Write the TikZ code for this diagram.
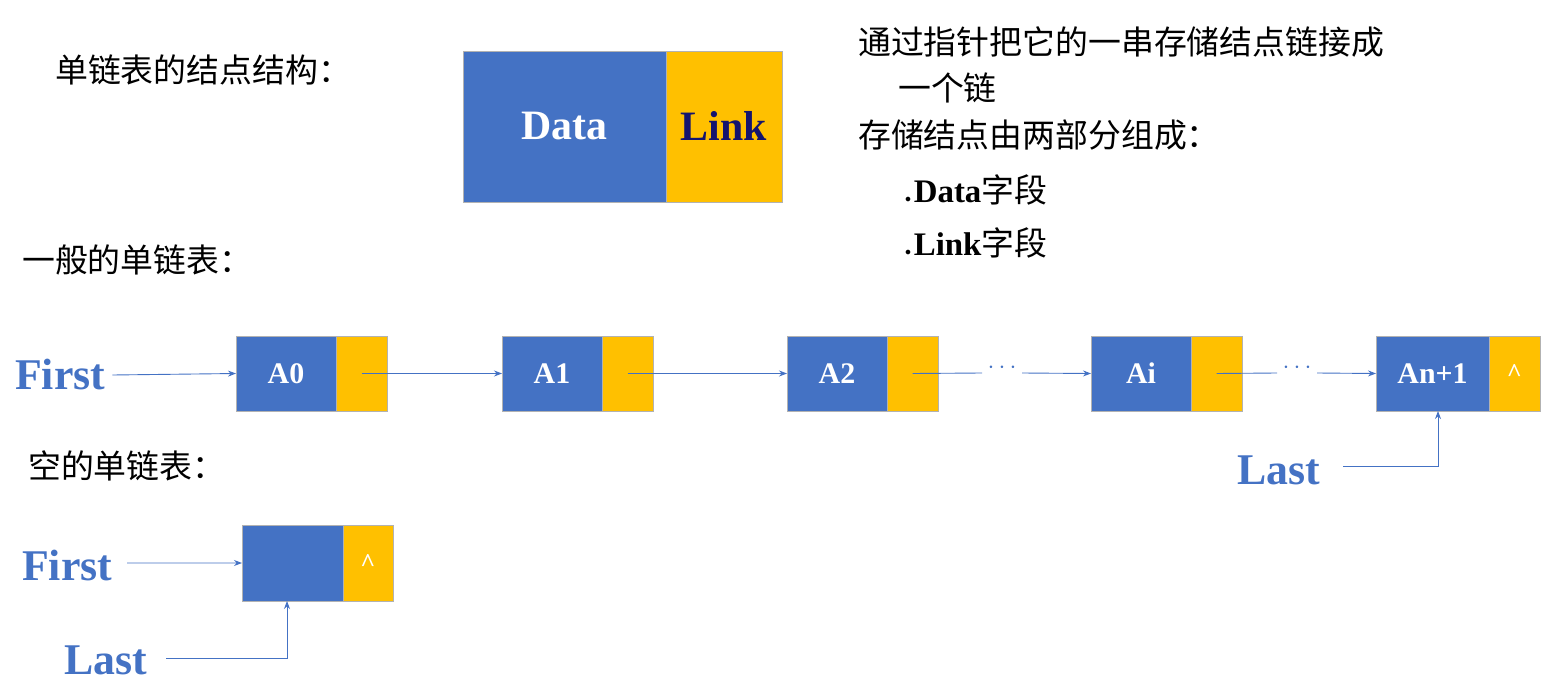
\documentclass[tikz,border=0pt]{standalone}
\usepackage{fontspec}
\setmainfont{Liberation Serif}
\newfontfamily\cjk{Noto Sans CJK SC}
\usetikzlibrary{arrows.meta}
\definecolor{bblue}{HTML}{4472C4}
\definecolor{byel}{HTML}{FFC000}
\definecolor{lblue}{HTML}{4472C4}
\begin{document}
\begin{tikzpicture}[x=1bp,y=-1bp,
  dpart/.style={draw=gray!60,line width=0.6pt,fill=bblue,text=white,font=\fontsize{30}{30}\selectfont\bfseries,inner sep=0,outer sep=0},
  lpart/.style={draw=gray!60,line width=0.6pt,fill=byel,text=white,font=\fontsize{26}{26}\selectfont\bfseries,inner sep=0,outer sep=0},
  ptr/.style={draw=lblue,line width=0.9pt,-{Stealth[length=8bp,width=6bp]}},
  lbl/.style={text=lblue,font=\fontsize{44}{44}\selectfont\bfseries,inner sep=0,anchor=west},
  cj/.style={font=\fontsize{33}{33}\selectfont\cjk,inner sep=0,anchor=west},
  dots/.style={text=lblue,font=\fontsize{30}{30}\selectfont\bfseries,inner sep=0}]
\useasboundingbox (0,0) rectangle (1553,687);
% top left
\node[cj] (t1) at (55,70) {单链表的结点结构：};
\path[draw=gray!60,fill=bblue] (463,51) rectangle (666,202);
\path[draw=gray!60,fill=byel] (666,51) rectangle (782,202);
\node[text=white,font=\fontsize{42}{42}\selectfont\bfseries] (dt) at (564,126) {Data};
\node[text={rgb,255:red,20;green,20;blue,110},font=\fontsize{42}{42}\selectfont\bfseries] (lk) at (724,126) {Link};
% right text
\node[cj] (r1) at (858,42) {通过指针把它的一串存储结点链接成};
\node[cj] (r2) at (898,88) {一个链};
\node[cj] (r3) at (858,135) {存储结点由两部分组成：};
\node[cj] (r4) at (905,190) {\fontsize{12}{12}\selectfont$\bullet$\ \fontsize{33}{33}\selectfont\rmfamily\bfseries Data\cjk\mdseries 字段};
\node[cj] (r5) at (905,243) {\fontsize{12}{12}\selectfont$\bullet$\ \fontsize{33}{33}\selectfont\rmfamily\bfseries Link\cjk\mdseries 字段};
\node[cj] (g1) at (22,260) {一般的单链表：};
% row
\newcommand{\lnode}[5]{%
  \node[dpart,minimum width=#3bp,minimum height=75bp,anchor=north west] (#1d) at (#2,336) {#4};
  \node[lpart,minimum width=51bp,minimum height=75bp,anchor=north west] (#1l) at (#1d.north east) {#5};
  \coordinate (#1s) at ($(#1l.center)+(0,0)$);}
\usetikzlibrary{calc}
\lnode{a}{236}{100}{A0}{}
\lnode{b}{502}{100}{A1}{}
\lnode{c}{787}{100}{A2}{}
\lnode{d}{1091}{100}{Ai}{}
\lnode{e}{1376}{113}{An+1}{\^{}}
\node[lbl] (f1) at (15,375) {First};
\draw[ptr] (f1.east)++(7,0) coordinate (f1s) -- (ad.west);
\draw[ptr] (al.center) -- (bd.west);
\draw[ptr] (bl.center) -- (cd.west);
\node[dots] (dd1) at (1002,368) {$\cdots$};
\node[dots] (dd2) at (1297,368) {$\cdots$};
\draw[draw=lblue,line width=0.9pt] (cl.center) -- (982,373);
\draw[ptr] (1022,373) -- (dd.west);
\draw[draw=lblue,line width=0.9pt] (dl.center) -- (1277,373);
\draw[ptr] (1317,373) -- (ed.west);
\node[lbl] (la1) at (1237,470) {Last};
\coordinate (lc1) at (1438,466);
\draw[ptr] (1343,466) -- (lc1) -- (lc1 |- ed.south);
% empty
\node[cj] (g2) at (28,466) {空的单链表：};
\node[dpart,minimum width=101bp,minimum height=76bp,anchor=north west] (ed2) at (242,525) {};
\node[lpart,minimum width=50bp,minimum height=76bp,anchor=north west] (el2) at (ed2.north east) {\^{}};
\node[lbl] (f2) at (22,565) {First};
\draw[ptr] (127,563) -- (ed2.west);
\node[lbl] (la2) at (64,660) {Last};
\coordinate (lc2) at (287,658);
\draw[ptr] (166,658) -- (lc2) -- (lc2 |- ed2.south);
\end{tikzpicture}
\end{document}
